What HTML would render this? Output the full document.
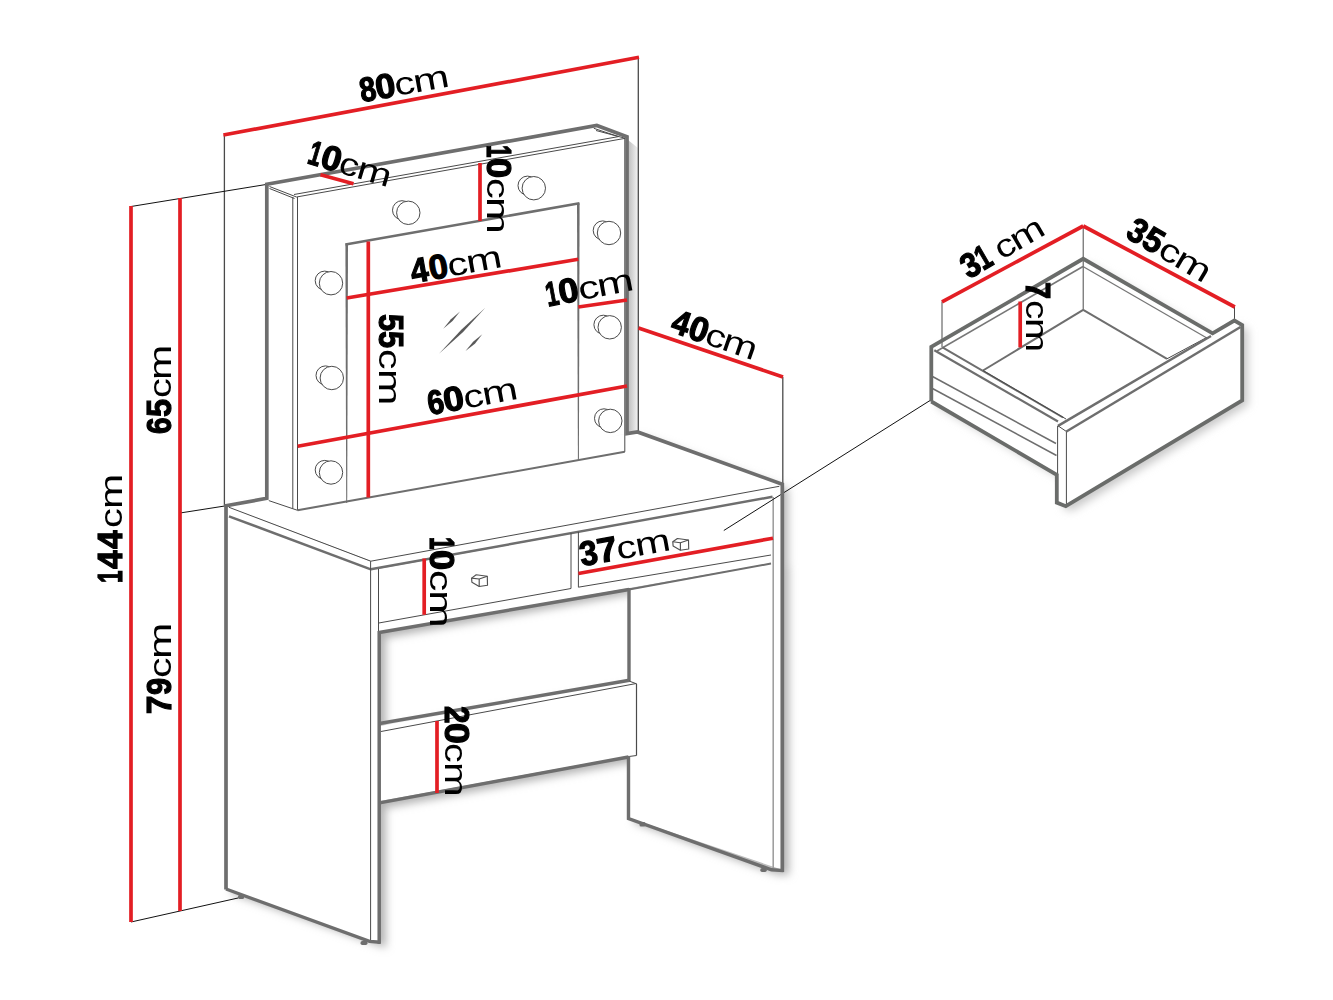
<!DOCTYPE html>
<html lang="en"><head><meta charset="utf-8"><title>Dressing table dimensions</title>
<style>
html,body{margin:0;padding:0;background:#fff}
body{width:1333px;height:1000px;overflow:hidden}
svg{display:block}
#stage{position:relative;width:1333px;height:1000px;overflow:hidden}
.L{position:absolute;width:0;height:0;font-size:0;line-height:0;white-space:nowrap;transform-origin:0 0;color:#000}
.L b{display:inline-block;font:normal 700 34.3px/0 "Liberation Sans",sans-serif;transform-origin:0 50%;-webkit-text-stroke:1.2px #000}
.L span{display:inline-block;font:normal 400 32px/0 "Liberation Sans",sans-serif;transform-origin:0 50%}
</style></head><body><div id="stage">
<svg width="1333" height="1000" viewBox="0 0 1333 1000">
<defs>
<filter id="b6" x="-20%" y="-20%" width="140%" height="140%"><feGaussianBlur stdDeviation="5"/></filter>
<filter id="b4" x="-10%" y="-10%" width="120%" height="120%"><feGaussianBlur stdDeviation="4"/></filter>
<filter id="b3" x="-20%" y="-20%" width="140%" height="140%"><feGaussianBlur stdDeviation="3"/></filter>
<linearGradient id="gm" x1="0" x2="1" y1="0" y2="0"><stop offset="0" stop-color="#bdbdbd"/><stop offset="1" stop-color="#f4f4f4"/></linearGradient>
<linearGradient id="gr" x1="0" x2="1" y1="0" y2="0"><stop offset="0" stop-color="#c4c4c4"/><stop offset="1" stop-color="#ffffff"/></linearGradient>
</defs>
<rect width="1333" height="1000" fill="#fff"/>

<g id="shadows">
<g filter="url(#b4)" transform="translate(6,5)" fill="#b4b4b4">
<polygon points="226,506 372,561 380,570 380,943 226,889" fill="#b4b4b4" stroke="none" stroke-width="0" />
<polygon points="226,506 637.5,432 782,484 782,560 772,563 379,633" fill="#b4b4b4" stroke="none" stroke-width="0" />
<polygon points="629,589 772,563 783,560 783,870 771,869.5 628,818" fill="#b4b4b4" stroke="none" stroke-width="0" />
<polygon points="380,723 629,680 636.5,683.5 636.5,755.5 628,757 380,803" fill="#b4b4b4" stroke="none" stroke-width="0" />
<polygon points="931.3,346.8 1083.2,258.8 1212.6,333.4 1234.4,320.5 1242.2,325 1242.2,400 1065.8,506 1057,502.5 1057,474.5 931.3,401.5" fill="#cacaca" stroke="none" stroke-width="0" />
</g>
<polygon points="628,140 638,148 638,432 628,433.5" fill="url(#gm)" stroke="none" stroke-width="0" />
</g>
<g id="helpers">
<line x1="224.4" y1="135" x2="224.4" y2="505.5" stroke="#4a4a4a" stroke-width="1.3" />
<line x1="638.3" y1="57" x2="638.3" y2="432" stroke="#4a4a4a" stroke-width="1.3" />
<line x1="131" y1="206.5" x2="266" y2="184.5" stroke="#111" stroke-width="1" />
<line x1="180" y1="513" x2="226" y2="505.8" stroke="#111" stroke-width="1" />
<line x1="131" y1="922" x2="238" y2="898" stroke="#111" stroke-width="1" />
<line x1="782.8" y1="377" x2="782.8" y2="485" stroke="#4a4a4a" stroke-width="1.3" />
</g>
<g id="table">
<polygon points="227,506 232,508 372,562 380,570 380,943 369.5,941.4 227,889" fill="#fff" stroke="none" stroke-width="0" />
<polygon points="629,590 772,563 772,497 779,486.5 783,484.5 783,870 629,818" fill="#fff" stroke="none" stroke-width="0" />
<polygon points="380,726 629,681 637,684 637,755 629,756 380,801" fill="#fff" stroke="none" stroke-width="0" />
<polygon points="378,569 772,497 772,563 378,632" fill="#fff" stroke="none" stroke-width="0" />
<polygon points="226,506 637.5,432 782,484 779,487 772.5,497 371,569.5 371,561" fill="#fff" stroke="none" stroke-width="0" />
<line x1="229" y1="507.3" x2="370.8" y2="561.2" stroke="#4a4a4a" stroke-width="1" />
<line x1="229" y1="516.3" x2="370.8" y2="569.3" stroke="#6e6e6e" stroke-width="2.4" />
<line x1="370.8" y1="561.2" x2="779.3" y2="486.3" stroke="#4a4a4a" stroke-width="1" />
<line x1="370.8" y1="569.3" x2="772.5" y2="496.8" stroke="#6e6e6e" stroke-width="2.4" />
<line x1="370.6" y1="561.2" x2="370.6" y2="941" stroke="#4a4a4a" stroke-width="1" />
<line x1="378.5" y1="569" x2="378.5" y2="632" stroke="#4a4a4a" stroke-width="1" />
<line x1="378.8" y1="623" x2="571" y2="588.5" stroke="#4a4a4a" stroke-width="1" />
<line x1="578.4" y1="587.2" x2="771" y2="555" stroke="#4a4a4a" stroke-width="1" />
<line x1="571" y1="533" x2="571" y2="588.5" stroke="#4a4a4a" stroke-width="1" />
<line x1="578.4" y1="531.8" x2="578.4" y2="587.2" stroke="#4a4a4a" stroke-width="1" />
<polyline points="379.2,943.8 379.2,632.5 629,589.5" stroke="#6e6e6e" stroke-width="3.5" fill="none" stroke-linejoin="miter" />
<line x1="629" y1="589.5" x2="771" y2="563.5" stroke="#6e6e6e" stroke-width="2" />
<line x1="629" y1="588" x2="629" y2="681" stroke="#6e6e6e" stroke-width="3.4" />
<line x1="773.2" y1="497" x2="773.2" y2="868" stroke="#9a9a9a" stroke-width="1.5" />
<line x1="379.5" y1="723.5" x2="629.4" y2="680.3" stroke="#6e6e6e" stroke-width="3.4" />
<line x1="381" y1="731.5" x2="636.3" y2="683.5" stroke="#4a4a4a" stroke-width="1" />
<line x1="629" y1="681" x2="636.5" y2="683.8" stroke="#4a4a4a" stroke-width="1" />
<line x1="636.5" y1="683.8" x2="636.5" y2="755.5" stroke="#4a4a4a" stroke-width="1.2" />
<line x1="629" y1="756.5" x2="636.5" y2="755.5" stroke="#4a4a4a" stroke-width="1.2" />
<line x1="379.5" y1="802.8" x2="628.5" y2="757" stroke="#6e6e6e" stroke-width="3.4" />
<polyline points="628.5,756 628.5,818.5 771.5,869.8 783.5,870.6" stroke="#6e6e6e" stroke-width="3.4" fill="none" stroke-linejoin="miter" />
<rect x="238" y="895" width="6" height="4" rx="1.5" fill="#6e6e6e"/>
<rect x="360.5" y="941" width="7" height="4" rx="1.8" fill="#6e6e6e"/>
<rect x="639.5" y="822" width="6" height="4.5" rx="1.5" fill="#6e6e6e"/>
<rect x="760.3" y="868" width="6.5" height="4" rx="1.8" fill="#6e6e6e"/>
<g transform="translate(479.5,580.6)" fill="#fff" stroke="#505050" stroke-width="1.15" stroke-linejoin="round"><polygon points="-7.9,-2.5 -3.3,-5.8 7.8,-4.3 8,4.7 -0.3,5.9 -7.6,1.7"/><polyline points="-7.9,-2.5 -0.3,-1.6 7.8,-4.3" fill="none"/><line x1="-0.3" y1="-1.6" x2="-0.3" y2="5.9"/></g>
<g transform="translate(680.7,544.3)" fill="#fff" stroke="#505050" stroke-width="1.15" stroke-linejoin="round"><polygon points="-7.9,-2.5 -3.3,-5.8 7.8,-4.3 8,4.7 -0.3,5.9 -7.6,1.7"/><polyline points="-7.9,-2.5 -0.3,-1.6 7.8,-4.3" fill="none"/><line x1="-0.3" y1="-1.6" x2="-0.3" y2="5.9"/></g>
</g>
<line x1="723.8" y1="530.5" x2="930" y2="400.5" stroke="#111" stroke-width="1" />
<g id="mirror">
<polygon points="266.8,184.3 596.8,125.5 627,136.8 627,433 298,510 266.8,498.3" fill="#fff" stroke="none" stroke-width="0" />
<line x1="269.5" y1="186.5" x2="296.5" y2="197" stroke="#4a4a4a" stroke-width="1" />
<line x1="269.5" y1="188.5" x2="294.5" y2="198.5" stroke="#4a4a4a" stroke-width="1" />
<line x1="296.5" y1="197" x2="625.3" y2="138.3" stroke="#4a4a4a" stroke-width="1" />
<line x1="294" y1="194.5" x2="618.5" y2="136.6" stroke="#4a4a4a" stroke-width="1" />
<line x1="593.8" y1="128.3" x2="618.5" y2="136.6" stroke="#4a4a4a" stroke-width="1" />
<line x1="596" y1="130.5" x2="625.3" y2="138.3" stroke="#4a4a4a" stroke-width="1" />
<line x1="292.8" y1="197" x2="292.8" y2="508.6" stroke="#4a4a4a" stroke-width="1" />
<line x1="297.5" y1="197" x2="297.5" y2="510.3" stroke="#4a4a4a" stroke-width="1" />
<line x1="268.8" y1="500.6" x2="297.5" y2="510.3" stroke="#4a4a4a" stroke-width="1" />
<line x1="297.5" y1="510.3" x2="624.8" y2="451.8" stroke="#6e6e6e" stroke-width="2" />
<line x1="624.8" y1="138" x2="624.8" y2="451.8" stroke="#4a4a4a" stroke-width="1" />
<line x1="345.5" y1="244.5" x2="579.5" y2="203.3" stroke="#6e6e6e" stroke-width="2.6" />
<polygon points="345.4,243.5 348.0,243.5 347.2,503 346.2,503" fill="#6e6e6e" stroke="none" stroke-width="0" />
<polygon points="577.0,203.5 579.6,203.5 578.9,460 577.9,460" fill="#6e6e6e" stroke="none" stroke-width="0" />
<g fill="#5a5a5a"><path d="M443.2,328.8 L450.9,319.2 L460,311.4 L452.5,321Z"/><path d="M439,353.7 L461.3,329.7 L485.3,307.8 L463.1,331.9Z"/><path d="M465.5,351 L473.1,341.7 L482.3,334.2 L474.9,343.7Z"/></g>
<circle cx="402.0" cy="210.2" r="9.5" fill="#fff" stroke="#4a4a4a" stroke-width="1"/>
<circle cx="408.3" cy="212.8" r="11.7" fill="#fff" stroke="#4a4a4a" stroke-width="1"/>
<circle cx="527.5" cy="185.6" r="9.5" fill="#fff" stroke="#4a4a4a" stroke-width="1"/>
<circle cx="533.8" cy="188.2" r="11.7" fill="#fff" stroke="#4a4a4a" stroke-width="1"/>
<circle cx="602.7" cy="230.4" r="9.5" fill="#fff" stroke="#4a4a4a" stroke-width="1"/>
<circle cx="609" cy="233" r="11.7" fill="#fff" stroke="#4a4a4a" stroke-width="1"/>
<circle cx="603.4" cy="324.7" r="9.5" fill="#fff" stroke="#4a4a4a" stroke-width="1"/>
<circle cx="609.7" cy="327.3" r="11.7" fill="#fff" stroke="#4a4a4a" stroke-width="1"/>
<circle cx="604.0" cy="418.3" r="9.5" fill="#fff" stroke="#4a4a4a" stroke-width="1"/>
<circle cx="610.3" cy="420.9" r="11.7" fill="#fff" stroke="#4a4a4a" stroke-width="1"/>
<circle cx="324.7" cy="280.6" r="9.5" fill="#fff" stroke="#4a4a4a" stroke-width="1"/>
<circle cx="331" cy="283.2" r="11.7" fill="#fff" stroke="#4a4a4a" stroke-width="1"/>
<circle cx="325.5" cy="375.4" r="9.5" fill="#fff" stroke="#4a4a4a" stroke-width="1"/>
<circle cx="331.8" cy="378" r="11.7" fill="#fff" stroke="#4a4a4a" stroke-width="1"/>
<circle cx="324.7" cy="469.9" r="9.5" fill="#fff" stroke="#4a4a4a" stroke-width="1"/>
<circle cx="331" cy="472.5" r="11.7" fill="#fff" stroke="#4a4a4a" stroke-width="1"/>
</g>
<g id="outline">
<polyline points="226,889.5 226,505.8 266.8,498.3 266.8,184.3 596.8,125.5 627,136.8 627,433.5 637.5,432 782.3,484.2 782.3,872" stroke="#6e6e6e" stroke-width="3.7" fill="none" stroke-linejoin="miter" />
<polyline points="226,889 369.5,941.4 380.5,942.2" stroke="#6e6e6e" stroke-width="3.4" fill="none" stroke-linejoin="miter" />
</g>
<g id="drawer">
<polygon points="931.3,346.8 1083.2,258.8 1212.6,333.4 1234.4,320.5 1242.2,325 1242.2,400 1065.8,506 1057,502.5 1057,474.5 931.3,401.5" fill="#fff" stroke="none" stroke-width="0" />
<line x1="942" y1="301.5" x2="942" y2="347" stroke="#4a4a4a" stroke-width="1" />
<line x1="1083.2" y1="226" x2="1083.2" y2="310" stroke="#4a4a4a" stroke-width="1" />
<line x1="1234.5" y1="307" x2="1234.5" y2="321" stroke="#4a4a4a" stroke-width="1" />
<line x1="937" y1="351" x2="1083" y2="266.5" stroke="#777" stroke-width="1.6" />
<line x1="1083" y1="266.5" x2="1206" y2="337.5" stroke="#777" stroke-width="1.3" />
<line x1="1083.2" y1="309.8" x2="983" y2="370.5" stroke="#6e6e6e" stroke-width="2" />
<line x1="1083.2" y1="309.8" x2="1167" y2="358.8" stroke="#6e6e6e" stroke-width="2" />
<line x1="1167" y1="358.8" x2="1207" y2="337.3" stroke="#4a4a4a" stroke-width="1" />
<line x1="934.3" y1="350.3" x2="1058" y2="421.5" stroke="#6e6e6e" stroke-width="2.2" />
<line x1="942.5" y1="347.3" x2="1063" y2="417.5" stroke="#6e6e6e" stroke-width="2" />
<line x1="983" y1="370.5" x2="1066" y2="419" stroke="#4a4a4a" stroke-width="1" />
<line x1="932.5" y1="376.5" x2="1056" y2="443.5" stroke="#6e6e6e" stroke-width="1.5" />
<line x1="932.5" y1="388.5" x2="1056.5" y2="455.5" stroke="#6e6e6e" stroke-width="1.5" />
<line x1="1058" y1="425.8" x2="1211" y2="336" stroke="#6e6e6e" stroke-width="2.5" />
<line x1="1066.4" y1="431.5" x2="1240.5" y2="327" stroke="#6e6e6e" stroke-width="2.5" />
<line x1="1058" y1="425.8" x2="1066.4" y2="431.5" stroke="#4a4a4a" stroke-width="1" />
<line x1="1066.4" y1="431.5" x2="1066.4" y2="506" stroke="#4a4a4a" stroke-width="1" />
<line x1="1057.6" y1="425.8" x2="1057.6" y2="475" stroke="#4a4a4a" stroke-width="1" />
<polyline points="931.3,401.5 931.3,346.8 1083.2,258.8 1212.6,333.4 1234.4,320.5 1242.2,325 1242.2,400.5 1065.8,506.2 1056.8,502.6 1056.8,474.8 931.3,401.5" stroke="#6a6c6a" stroke-width="3.8" fill="none" stroke-linejoin="miter" />
</g>
<g id="red" stroke="#e31e24" stroke-width="3.7" fill="none">
<line x1="223.4" y1="135" x2="639" y2="57.3"/>
<line x1="131" y1="206" x2="131" y2="922"/>
<line x1="180" y1="198" x2="180" y2="911"/>
<line x1="320.5" y1="174.8" x2="353.5" y2="183.8"/>
<line x1="480" y1="163" x2="480" y2="221"/>
<line x1="368.3" y1="241.5" x2="368.3" y2="497.5"/>
<line x1="346.7" y1="298" x2="578.3" y2="259.3"/>
<line x1="578.3" y1="307" x2="627" y2="300"/>
<line x1="297.7" y1="446.2" x2="627" y2="386"/>
<line x1="638.5" y1="328" x2="783" y2="377"/>
<line x1="424.2" y1="558.5" x2="424.2" y2="614.8"/>
<line x1="578.4" y1="573.5" x2="773" y2="538.2"/>
<line x1="437" y1="721" x2="437" y2="793"/>
<line x1="942" y1="301.8" x2="1083.2" y2="226"/>
<line x1="1083.2" y1="226" x2="1234.8" y2="307"/>
<line x1="1020.2" y1="301.5" x2="1020.2" y2="347.3"/>
</g>
</svg>
<div class="L" style="left:362.3px;top:103.2px;transform:rotate(-10.3deg) translateY(-12.7px)"><b style="transform:scaleX(0.859);margin-left:-0.33px">8</b><b style="transform:scaleX(1.047);margin-left:-2.65px">0</b><span style="transform:scaleX(1.280);margin-left:0.08px">c</span><span style="transform:scaleX(1.362);margin-left:3.10px">m</span></div>
<div class="L" style="left:307.1px;top:163.7px;transform:rotate(16.6deg) translateY(-12.7px)"><b style="transform:scaleX(0.653);margin-left:-0.81px">1</b><b style="transform:scaleX(1.043);margin-left:-6.30px">0</b><span style="transform:scaleX(1.222);margin-left:0.29px">c</span><span style="transform:scaleX(1.300);margin-left:2.24px">m</span></div>
<div class="L" style="left:485.8px;top:146.2px;transform:rotate(90deg) translateY(-12.7px)"><b style="transform:scaleX(0.658);margin-left:-0.82px">1</b><b style="transform:scaleX(1.050);margin-left:-6.21px">0</b><span style="transform:scaleX(1.300);margin-left:0.71px">c</span><span style="transform:scaleX(1.384);margin-left:3.41px">m</span></div>
<div class="L" style="left:413.3px;top:283.5px;transform:rotate(-10.3deg) translateY(-12.7px)"><b style="transform:scaleX(0.923);margin-left:0.12px">4</b><b style="transform:scaleX(1.000);margin-left:-0.67px">0</b><span style="transform:scaleX(1.273);margin-left:-0.73px">c</span><span style="transform:scaleX(1.354);margin-left:2.99px">m</span></div>
<div class="L" style="left:549.4px;top:307.1px;transform:rotate(-10.8deg) translateY(-12.7px)"><b style="transform:scaleX(0.658);margin-left:-0.82px">1</b><b style="transform:scaleX(1.050);margin-left:-6.21px">0</b><span style="transform:scaleX(1.300);margin-left:0.71px">c</span><span style="transform:scaleX(1.384);margin-left:3.41px">m</span></div>
<div class="L" style="left:377.8px;top:313.8px;transform:rotate(90deg) translateY(-12.7px)"><b style="transform:scaleX(0.898);margin-left:-0.35px">5</b><b style="transform:scaleX(0.898);margin-left:-1.39px">5</b><span style="transform:scaleX(1.285);margin-left:-0.96px">c</span><span style="transform:scaleX(1.367);margin-left:3.18px">m</span></div>
<div class="L" style="left:430.3px;top:416.1px;transform:rotate(-10.6deg) translateY(-12.7px)"><b style="transform:scaleX(0.856);margin-left:-0.48px">6</b><b style="transform:scaleX(1.079);margin-left:-2.87px">0</b><span style="transform:scaleX(1.268);margin-left:0.86px">c</span><span style="transform:scaleX(1.349);margin-left:2.92px">m</span></div>
<div class="L" style="left:669.2px;top:331.8px;transform:rotate(19.2deg) translateY(-12.7px)"><b style="transform:scaleX(0.915);margin-left:0.13px">4</b><b style="transform:scaleX(0.992);margin-left:-0.82px">0</b><span style="transform:scaleX(1.235);margin-left:-1.44px">c</span><span style="transform:scaleX(1.314);margin-left:2.43px">m</span></div>
<div class="L" style="left:172.4px;top:434.4px;transform:rotate(-90deg) translateY(-12.7px)"><b style="transform:scaleX(0.873);margin-left:-0.50px">6</b><b style="transform:scaleX(0.944);margin-left:-2.08px">5</b><span style="transform:scaleX(1.240);margin-left:-0.06px">c</span><span style="transform:scaleX(1.319);margin-left:2.50px">m</span></div>
<div class="L" style="left:123.4px;top:582.2px;transform:rotate(-90deg) translateY(-12.7px)"><b style="transform:scaleX(0.660);margin-left:-0.83px">1</b><b style="transform:scaleX(0.972);margin-left:-5.25px">4</b><b style="transform:scaleX(0.972);margin-left:1.16px">4</b><span style="transform:scaleX(1.240);margin-left:1.80px">c</span><span style="transform:scaleX(1.319);margin-left:2.50px">m</span></div>
<div class="L" style="left:172px;top:713.4px;transform:rotate(-90deg) translateY(-12.7px)"><b style="transform:scaleX(0.969);margin-left:-0.83px">7</b><b style="transform:scaleX(0.902);margin-left:-0.71px">9</b><span style="transform:scaleX(1.285);margin-left:-1.76px">c</span><span style="transform:scaleX(1.367);margin-left:3.18px">m</span></div>
<div class="L" style="left:429px;top:538px;transform:rotate(90deg) translateY(-12.7px)"><b style="transform:scaleX(0.658);margin-left:-0.82px">1</b><b style="transform:scaleX(1.050);margin-left:-6.21px">0</b><span style="transform:scaleX(1.333);margin-left:0.67px">c</span><span style="transform:scaleX(1.418);margin-left:3.89px">m</span></div>
<div class="L" style="left:581.7px;top:567.3px;transform:rotate(-10.3deg) translateY(-12.7px)"><b style="transform:scaleX(0.943);margin-left:-0.14px">3</b><b style="transform:scaleX(1.039);margin-left:-1.30px">7</b><span style="transform:scaleX(1.252);margin-left:0.58px">c</span><span style="transform:scaleX(1.333);margin-left:2.69px">m</span></div>
<div class="L" style="left:443.6px;top:706.2px;transform:rotate(90deg) translateY(-12.7px)"><b style="transform:scaleX(0.919);margin-left:-0.49px">2</b><b style="transform:scaleX(1.092);margin-left:-1.87px">0</b><span style="transform:scaleX(1.225);margin-left:1.55px">c</span><span style="transform:scaleX(1.303);margin-left:2.28px">m</span></div>
<div class="L" style="left:969.2px;top:280px;transform:rotate(-30.3deg) translateY(-12.7px)"><b style="transform:scaleX(0.913);margin-left:-0.12px">3</b><b style="transform:scaleX(0.713);margin-left:-1.88px">1</b><span style="transform:scaleX(1.237);margin-left:1.46px">c</span><span style="transform:scaleX(1.317);margin-left:2.47px">m</span></div>
<div class="L" style="left:1124.2px;top:237.2px;transform:rotate(30.7deg) translateY(-12.7px)"><b style="transform:scaleX(0.917);margin-left:-0.12px">3</b><b style="transform:scaleX(0.978);margin-left:-1.29px">5</b><span style="transform:scaleX(1.280);margin-left:0.01px">c</span><span style="transform:scaleX(1.362);margin-left:3.10px">m</span></div>
<div class="L" style="left:1024.5px;top:282.5px;transform:rotate(90deg) translateY(-12.7px)"><b style="transform:scaleX(0.889);margin-left:-0.71px">7</b><span style="transform:scaleX(1.210);margin-left:-1.01px">c</span><span style="transform:scaleX(1.287);margin-left:2.05px">m</span></div>
</div></body></html>
